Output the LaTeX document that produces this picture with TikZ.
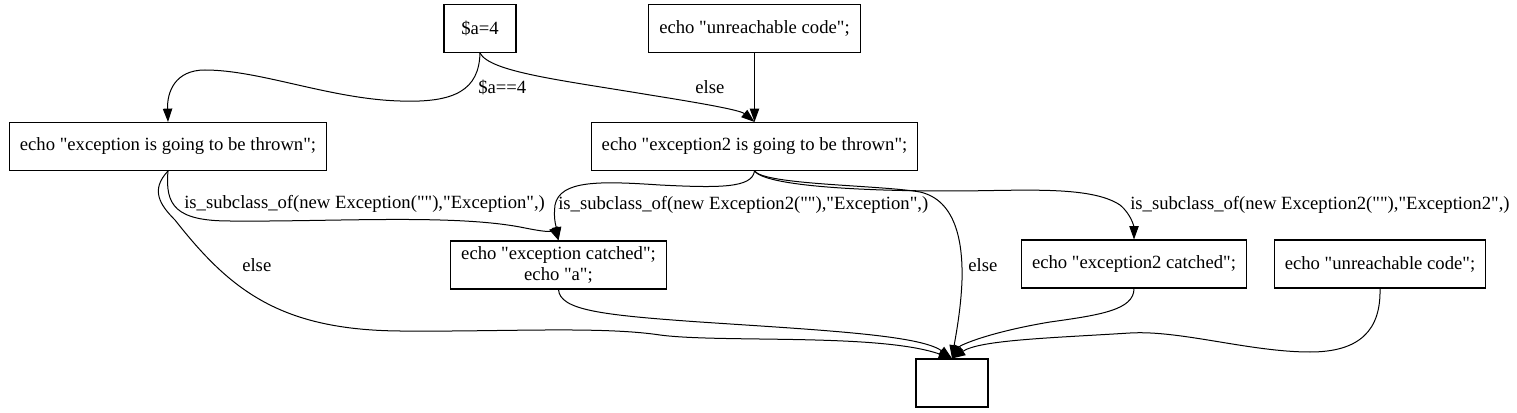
\documentclass[tikz,border=0pt]{standalone}
\usepackage{fontspec}
\setmainfont{Liberation Serif}[Ligatures=TeXOff]
\usepackage{tikz}
\usetikzlibrary{arrows.meta, positioning}

\begin{document}
\begin{tikzpicture}[
    x=0.75pt, y=-0.75pt, % pixel grid of the layout
    every node/.style={font=\fontsize{14}{16}\selectfont},
    box/.style={rectangle, draw, line width=0.8pt, inner xsep=8pt, inner ysep=4pt,
                minimum width=54pt, minimum height=36pt, align=center},
    lbl/.style={anchor=west, inner sep=0pt},
    arrow/.style={-{Triangle[length=10pt, width=7pt]}, line width=0.75pt}
]
\useasboundingbox (0,0) rectangle (1517,413);

% Nodes
\node[box] (assign)  at (480,28.5)  {\$a=4};
\node[box] (unreachA) at (754.5,28.5) {echo "unreachable code";};
\node[box] (throwA)  at (168,146.5)  {echo "exception is going to be thrown";};
\node[box] (throwB)  at (754.5,146.5) {echo "exception2 is going to be thrown";};
\node[box] (catchA)  at (558.5,265)  {echo "exception catched";\\echo "a";};
\node[box] (catchB)  at (1134,264)   {echo "exception2 catched";};
\node[box] (unreachB) at (1380,264)  {echo "unreachable code";};
\node[box] (exit)    at (952,383)    {};

% Labels
\node[lbl] (condA)  at (478,87)  {\$a==4};
\node[lbl] (elseA)  at (695,87)  {else};
\node[lbl] (subA)   at (184,204) {is\_subclass\_of(new Exception(""),"Exception",)};
\node[lbl] (subB)   at (558,205) {is\_subclass\_of(new Exception2(""),"Exception",)};
\node[lbl] (subC)   at (1130,205) {is\_subclass\_of(new Exception2(""),"Exception2",)};
\node[lbl] (elseB)  at (242,265) {else};
\node[lbl] (elseC)  at (968,265) {else};

% Edges
\draw[arrow] (assign.south) .. controls (479,90) and (455,103) .. (400,101)
    .. controls (330,99) and (260,70) .. (205,70)
    .. controls (175,70) and (167,92) .. (throwA.north);
\draw[arrow] (assign.south) .. controls (490,72) and (560,80) .. (650,95)
    .. controls (700,103) and (740,110) .. (throwB.north);
\draw[arrow] (unreachA) -- (throwB);
\draw[arrow] (throwA.south) .. controls (165,205) and (175,221) .. (230,221)
    .. controls (330,222) and (450,214) .. (520,227)
    .. controls (540,231) and (556,234) .. (catchA.north);
\draw[arrow] (throwA.south) .. controls (150,190) and (160,205) .. (175,220)
    .. controls (230,290) and (280,330) .. (400,331)
    .. controls (500,332) and (600,326) .. (660,335)
    .. controls (720,343) and (880,333) .. (exit.north);
\draw[arrow] (throwB.south) .. controls (752,188) and (720,188) .. (660,185)
    .. controls (600,181) and (560,180) .. (555,205)
    .. controls (553,220) and (557,230) .. (catchA.north);
\draw[arrow] (throwB.south) .. controls (765,185) and (880,185) .. (920,192)
    .. controls (955,200) and (963,240) .. (962,280)
    .. controls (961,310) and (955,340) .. (exit.north);
\draw[arrow] (throwB.south) .. controls (765,185) and (850,191) .. (950,191)
    .. controls (1020,191) and (1090,185) .. (1120,205)
    .. controls (1132,215) and (1134,228) .. (catchB.north);
\draw[arrow] (catchA.south) .. controls (560,310) and (600,315) .. (700,322)
    .. controls (820,330) and (920,335) .. (exit.north);
\draw[arrow] (catchB.south) .. controls (1134,310) and (1100,315) .. (1050,322)
    .. controls (990,332) and (960,345) .. (exit.north);
\draw[arrow] (unreachB.south) .. controls (1381,330) and (1360,352) .. (1310,352)
    .. controls (1250,352) and (1180,330) .. (1130,333)
    .. controls (1050,338) and (980,340) .. (exit.north);

\end{tikzpicture}
\end{document}
